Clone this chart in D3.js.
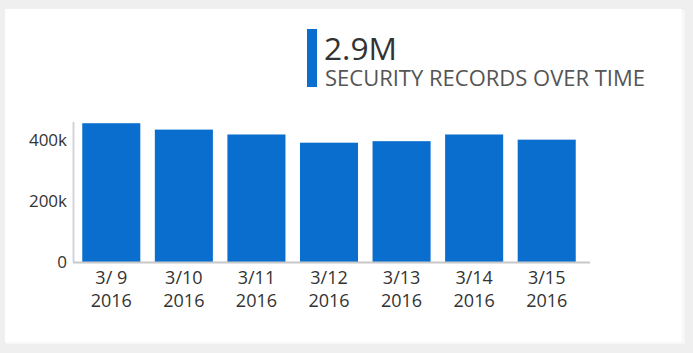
<!DOCTYPE html>
<html>
<head>
<meta charset="utf-8">
<script src="https://cdn.jsdelivr.net/npm/d3@7"></script>
<style>
  html, body { margin: 0; padding: 0; background: #efefef; }
  svg { display: block; }
</style>
</head>
<body>
<svg id="chart" width="693" height="353"></svg>
<script>
const categories = ["3/ 9", "3/10", "3/11", "3/12", "3/13", "3/14", "3/15"];
const years = ["2016", "2016", "2016", "2016", "2016", "2016", "2016"];
const values = [456000, 435000, 419000, 392000, 397000, 419000, 402000];
const yTicks = [0, 200000, 400000];
const totalLabel = "2.9M";
const titleLabel = "SECURITY RECORDS OVER TIME";

const svg = d3.select("#chart");
const font = "'Open Sans', 'Noto Sans', sans-serif";

// card
svg.append("rect").attr("x", 6).attr("y", 10).attr("width", 679).attr("height", 334)
  .attr("fill", "#f7f7f7");
svg.append("rect").attr("x", 5).attr("y", 9).attr("width", 677).attr("height", 333)
  .attr("fill", "#ffffff");

// header
svg.append("rect").attr("x", 307).attr("y", 29).attr("width", 10).attr("height", 58)
  .attr("fill", "#0a6ecf");
svg.append("text").attr("x", 324).attr("y", 60).text(totalLabel)
  .attr("font-family", font).attr("font-size", 31).attr("fill", "#333")
  .attr("textLength", 73).attr("lengthAdjust", "spacingAndGlyphs");
svg.append("text").attr("x", 325).attr("y", 86).text(titleLabel)
  .attr("font-family", font).attr("font-size", 21).attr("fill", "#555")
  .attr("textLength", 320).attr("lengthAdjust", "spacingAndGlyphs");

// scales
const x = d3.scaleBand().domain(categories).range([75, 583]).paddingInner(0.2).paddingOuter(0.1);
const y = d3.scaleLinear().domain([0, 460000]).range([262, 122]);

// bars
svg.append("g").selectAll("rect").data(values).join("rect")
  .attr("x", (d, i) => x(categories[i]))
  .attr("width", x.bandwidth())
  .attr("y", d => y(d))
  .attr("height", d => y(0) - y(d))
  .attr("fill", "#0a6ecf");

// y axis
const yAxis = svg.append("g").attr("transform", "translate(73,0)")
  .call(d3.axisLeft(y).tickValues(yTicks).tickSize(0).tickPadding(6)
    .tickFormat(d => d === 0 ? "0" : d3.format("~s")(d)));
yAxis.select(".domain").remove();
yAxis.selectAll("text").attr("font-family", font).attr("font-size", 17).attr("fill", "#333");
svg.append("line").attr("x1", 73.5).attr("x2", 73.5).attr("y1", y.range()[1]).attr("y2", y(0))
  .attr("stroke", "#d0d4da").attr("stroke-width", 2);

// x axis
svg.append("line").attr("x1", 73).attr("x2", 590).attr("y1", y(0) + 0.5).attr("y2", y(0) + 0.5)
  .attr("stroke", "#c8c8c8").attr("stroke-width", 2);
const xAxis = svg.append("g").attr("transform", `translate(0,${y(0)})`)
  .call(d3.axisBottom(x).tickSize(0).tickPadding(0).tickFormat(() => ""));
xAxis.select(".domain").remove();
xAxis.selectAll(".tick").each(function(d, i) {
  const t = d3.select(this).select("text").attr("font-family", font).attr("font-size", 18)
    .attr("fill", "#333").attr("text-anchor", "middle").attr("dy", null).attr("y", 0);
  t.append("tspan").attr("x", 0).attr("y", 21.5).text(categories[i]);
  t.append("tspan").attr("x", 0).attr("y", 45).text(years[i]);
});
</script>
</body>
</html>
